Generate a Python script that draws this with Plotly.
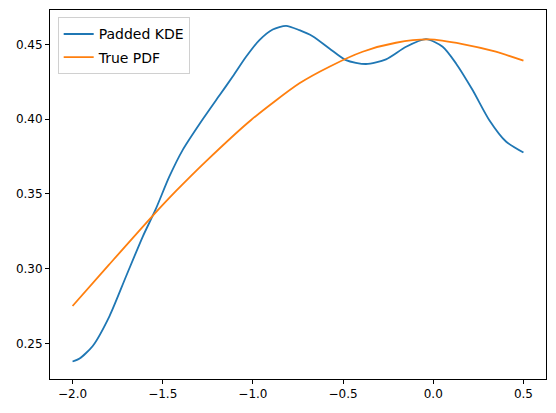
import plotly.graph_objects as go

# values
kde_x = [-2.0, -1.961, -1.888, -1.795, -1.703, -1.61, -1.54, -1.463, -1.389, -1.296,
         -1.186, -1.112, -1.038, -0.964, -0.89, -0.816, -0.742, -0.669, -0.576,
         -0.484, -0.373, -0.262, -0.151, -0.04, 0.052, 0.126, 0.218, 0.31, 0.403, 0.5]
kde_y = [0.238, 0.240, 0.2484, 0.2684, 0.295, 0.3217, 0.3395, 0.3617, 0.3795, 0.3968,
         0.4158, 0.4285, 0.4417, 0.4529, 0.46, 0.4624, 0.4595, 0.4555, 0.4473,
         0.4395, 0.4369, 0.44, 0.4484, 0.4535, 0.4484, 0.4373, 0.4195, 0.3995, 0.3851, 0.3777]

pdf_x = [-2.0, -1.8, -1.561, -1.426, -1.259, -1.01, -0.742, -0.576, -0.392,
         -0.207, -0.022, 0.162, 0.347, 0.5]
pdf_y = [0.2751, 0.3024, 0.3347, 0.352, 0.372, 0.3995, 0.424, 0.4351, 0.4451,
         0.4511, 0.4533, 0.4502, 0.4451, 0.4391]

x_ticks = [-2.0, -1.5, -1.0, -0.5, 0.0, 0.5]
x_labels = ['\u22122.0', '\u22121.5', '\u22121.0', '\u22120.5', '0.0', '0.5']
y_ticks = [0.25, 0.30, 0.35, 0.40, 0.45]
y_labels = ['0.25', '0.30', '0.35', '0.40', '0.45']

fig = go.Figure()
fig.add_trace(go.Scatter(x=kde_x, y=kde_y, mode='lines', name='Padded KDE', legendgroup='a',
                         line=dict(color='#1f77b4', width=1.8, shape='spline', smoothing=0.7)))
fig.add_trace(go.Scatter(x=pdf_x, y=pdf_y, mode='lines', name='True PDF', legendgroup='b',
                         line=dict(color='#ff7f0e', width=1.8, shape='spline', smoothing=0.7)))

axis_style = dict(showgrid=False, zeroline=False, showline=True, linecolor='black',
                  linewidth=1, mirror=True, ticks='outside', ticklen=4, tickwidth=1,
                  tickcolor='black', tickfont=dict(family='DejaVu Sans', size=12, color='black'))

# page body has an 8px margin, so the figure is a bit smaller than the window
fig.update_layout(
    width=548, height=405,
    margin=dict(l=42, r=10, t=2, b=34),
    plot_bgcolor='white', paper_bgcolor='white',
    font=dict(family='DejaVu Sans', size=12, color='black'),
    xaxis=dict(range=[-2.125, 0.625], tickvals=x_ticks, ticktext=x_labels, **axis_style),
    yaxis=dict(range=[0.2263, 0.4730], tickvals=y_ticks, ticktext=y_labels, **axis_style),
    legend=dict(x=0.0155, y=0.98, xanchor='left', yanchor='top',
                bgcolor='rgba(255,255,255,0.8)', bordercolor='#d0d0d0', borderwidth=1,
                font=dict(family='DejaVu Sans', size=14, color='black'),
                tracegroupgap=2),
    showlegend=True,
)

fig.write_html("out.html")
